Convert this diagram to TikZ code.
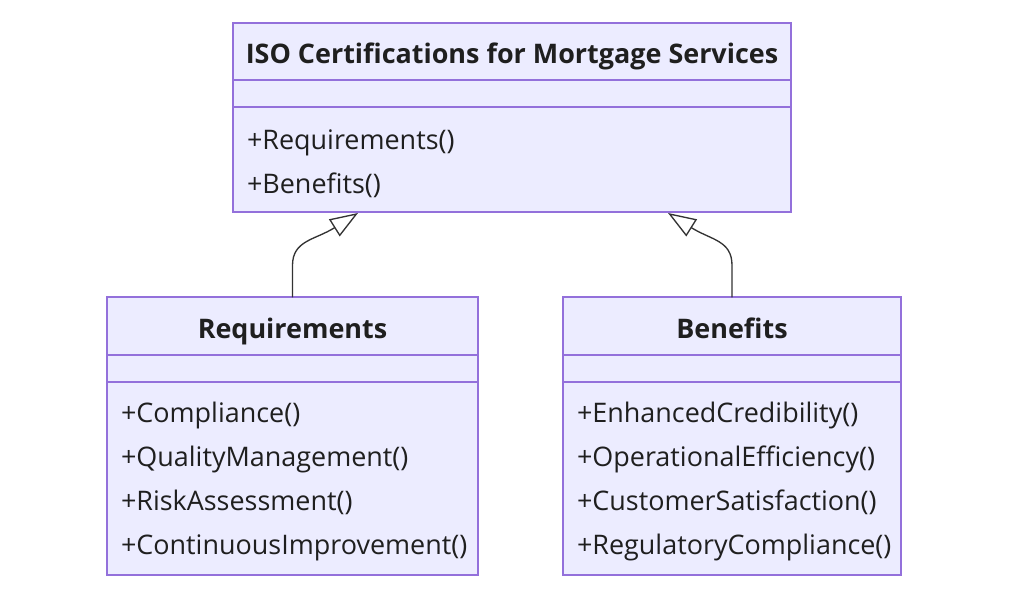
\documentclass[tikz,border=0pt]{standalone}
\usepackage{fontspec}
\setmainfont{Open Sans}
\usetikzlibrary{arrows.meta, positioning}
\definecolor{classfill}{RGB}{236,236,255}
\definecolor{classline}{RGB}{147,112,219}

\begin{document}
\begin{tikzpicture}[x=0.75pt, y=-0.75pt,
        classhead/.style={rectangle, draw=classline, fill=classfill, line width=1.3pt, outer sep=0pt,
                          minimum height=43pt, inner sep=0pt, text=black!88, text height=21pt, text depth=3pt,
                          font=\fontsize{20.2}{24}\selectfont\bfseries},
        classband/.style={rectangle, draw=classline, fill=classfill, line width=1.3pt, outer sep=0pt,
                          minimum height=20.25pt, inner sep=0pt},
        classbody/.style={rectangle, draw=classline, fill=classfill, line width=1.3pt, outer sep=0pt,
                          align=left, inner xsep=10.5pt, inner ysep=0pt, text=black!88,
                          font=\fontsize{20.2}{33}\selectfont},
        inherit/.style={-{Triangle[open, fill=white, length=21pt, width=15pt]}, line width=1pt, black!80}
    ]
        \useasboundingbox (0,0) rectangle (1024,592);

        % top class
        \node[classhead, minimum width=418.5pt] (isoHead) at (512,51.5) {ISO Certifications for Mortgage Services};
        \node[classband, minimum width=418.5pt, below=0pt of isoHead] (isoBand) {};
        \node[classbody, text width=397.5pt, minimum height=78.75pt, below=0pt of isoBand] (isoBody)
            {\rule{0pt}{21pt}+Requirements()\\+Benefits()};

        % left class
        \node[classhead, minimum width=278.25pt] (reqHead) at (292.5,326) {Requirements};
        \node[classband, minimum width=278.25pt, below=0pt of reqHead] (reqBand) {};
        \node[classbody, text width=257.25pt, minimum height=144.75pt, below=0pt of reqBand] (reqBody)
            {\rule{0pt}{21pt}+Compliance()\\+QualityManagement()\\+RiskAssessment()\\+ContinuousImprovement()};

        % right class
        \node[classhead, minimum width=253.5pt] (benHead) at (732,326) {Benefits};
        \node[classband, minimum width=253.5pt, below=0pt of benHead] (benBand) {};
        \node[classbody, text width=232.5pt, minimum height=144.75pt, below=0pt of benBand] (benBody)
            {\rule{0pt}{21pt}+EnhancedCredibility()\\+OperationalEfficiency()\\+CustomerSatisfaction()\\+RegulatoryCompliance()};

        % inheritance
        \coordinate (reqTip) at (358,213);
        \coordinate (benTip) at (668,213);
        \draw[inherit] (reqHead.north) -- ++(0,-32) .. controls +(0,-25) and (315,240) .. (reqTip);
        \draw[inherit] (benHead.north) -- ++(0,-32) .. controls +(0,-25) and (711,240) .. (benTip);
    \end{tikzpicture}
\end{document}
